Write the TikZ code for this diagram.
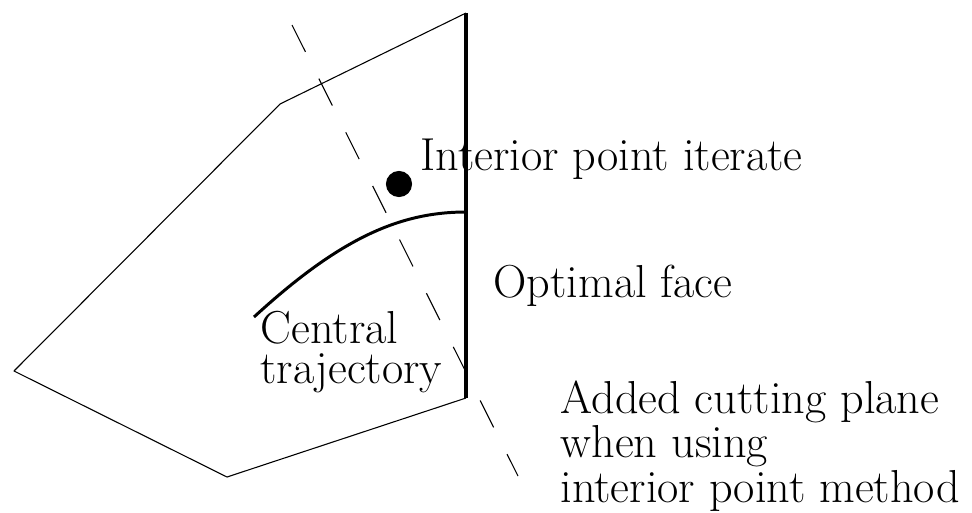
\documentclass[tikz,border=0pt]{standalone}
\usepackage{tikz}
\usetikzlibrary{positioning}
\tikzset{
    label/.style={
        inner sep=0pt,
        anchor=base west,
        align=left,
        font=\fontsize{17.1}{14.7}\selectfont
    },
    face/.style={
        line width=1.5pt,
        draw=black
    }
}

\begin{document}
\begin{tikzpicture}[x=0.13mm, y=-0.13mm]
            \useasboundingbox (0,0) rectangle (972,512);

            % Corners of the feasible region
            \coordinate (left) at (14,371);
            \coordinate (upper) at (280,104);
            \coordinate (top) at (466,13);
            \coordinate (foot) at (466,398);
            \coordinate (bottom) at (227,477);

            % Region outline
            \draw[line width=0.4pt, line join=round]
                (foot) -- (bottom) -- (left) -- (upper) -- (top);

            % Optimal face
            \draw[face] (top) -- (foot);

            % Cutting plane
            \coordinate (cutA) at (292,25);
            \coordinate (cutB) at (518,476);
            \draw[line width=0.4pt, dash pattern=on 3.9mm off 3.9mm] (cutA) -- (cutB);

            % Central trajectory
            \coordinate (trajA) at (254,317);
            \coordinate (trajB) at (466,212);
            \draw[line width=1.1pt]
                (trajA) .. controls (340,238) and (400,212) .. (trajB);

            % Iterate
            \node[circle, fill=black, inner sep=0pt, minimum size=3.4mm] (iterate) at (399,184) {};

            % Labels (base = last line)
            \node[label] (iterlabel) at (420,170) {Interior point iterate};
            \node[label] (facelabel) at (493,297) {Optimal face};
            \node[label] (trajlabel) at (260,383) {Central\\trajectory};
            \node[label] (cutlabel) at (560,502)
                {Added cutting plane\\when using\\interior point method};
\end{tikzpicture}
\end{document}
